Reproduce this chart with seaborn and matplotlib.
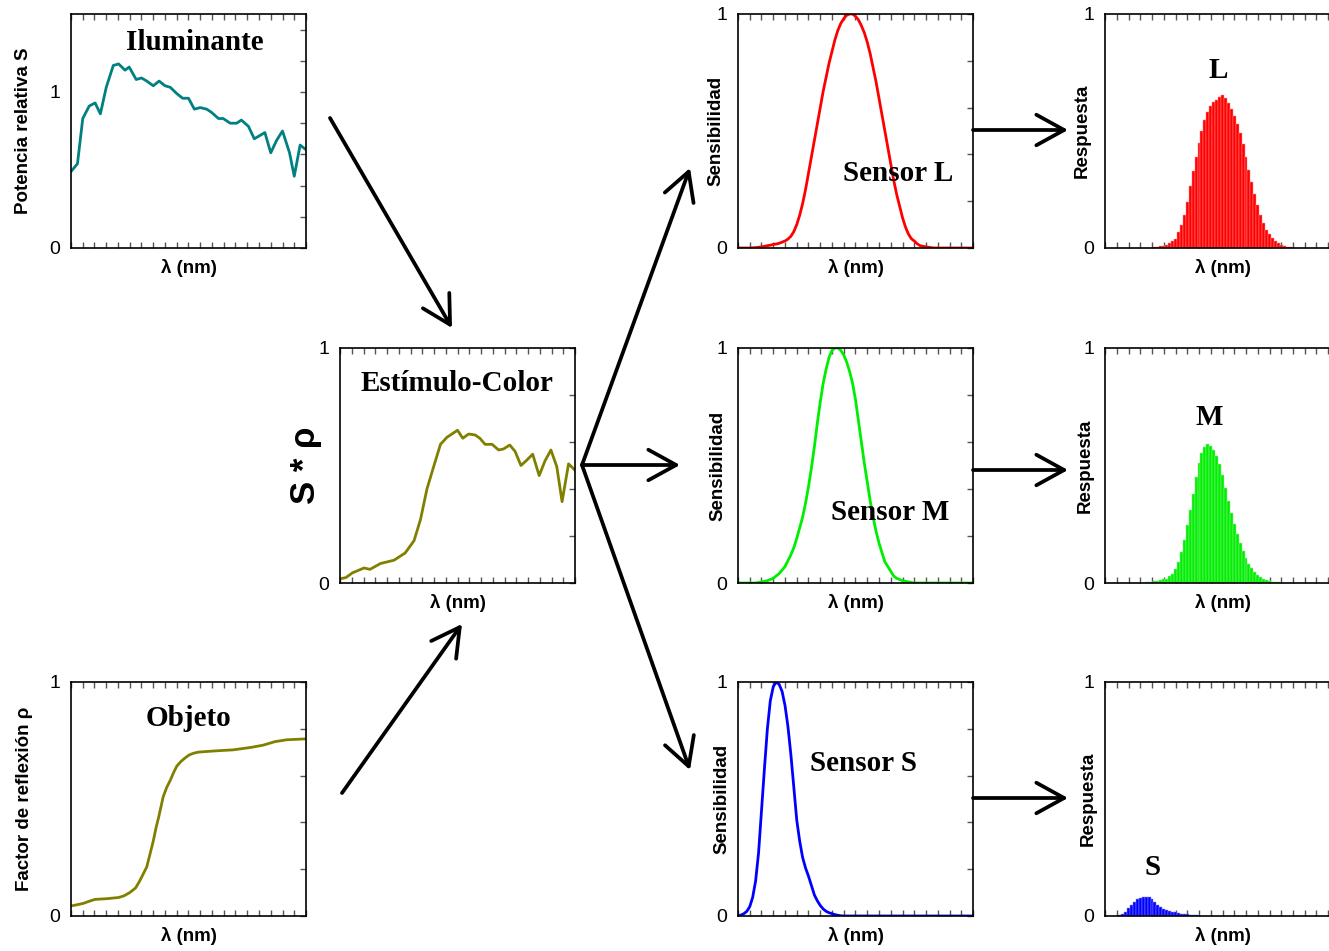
import numpy as np
import matplotlib
matplotlib.use("Agg")
import matplotlib.pyplot as plt
import matplotlib.patches as mpatches
import seaborn as sns

# wavelength grid for the sensor curves (nm)
wl5 = list(range(380, 781, 5))

sens_L = [0, 0, 0, 0, 0, 0.001, 0.002, 0.003, 0.005, 0.007,
          0.01, 0.012, 0.015, 0.017, 0.02, 0.025, 0.03, 0.038, 0.05, 0.07,
          0.10, 0.14, 0.19, 0.25, 0.32, 0.39, 0.46, 0.53, 0.60, 0.67,
          0.73, 0.79, 0.84, 0.89, 0.93, 0.96, 0.98, 0.995, 1.0, 1.0,
          0.99, 0.975, 0.95, 0.92, 0.88, 0.83, 0.77, 0.71, 0.64, 0.57,
          0.50, 0.43, 0.36, 0.29, 0.23, 0.18, 0.13, 0.09, 0.06, 0.04,
          0.03, 0.018, 0.01, 0.007, 0.005, 0.003, 0.001, 0, 0, 0,
          0, 0, 0, 0, 0, 0, 0, 0, 0, 0, 0]
sens_M = [0, 0, 0, 0, 0, 0, 0, 0.002, 0.005, 0.007,
          0.01, 0.015, 0.02, 0.03, 0.04, 0.055, 0.07, 0.095, 0.12, 0.15,
          0.19, 0.235, 0.28, 0.34, 0.41, 0.49, 0.58, 0.68, 0.77, 0.85,
          0.91, 0.96, 0.99, 1.0, 1.0, 0.99, 0.97, 0.94, 0.90, 0.85,
          0.78, 0.69, 0.60, 0.51, 0.43, 0.35, 0.28, 0.22, 0.17, 0.13,
          0.09, 0.07, 0.05, 0.03, 0.02, 0.015, 0.01, 0.007, 0.005, 0.002,
          0, 0, 0, 0, 0, 0, 0, 0, 0, 0,
          0, 0, 0, 0, 0, 0, 0, 0, 0, 0, 0]
sens_S = [0, 0.004, 0.01, 0.02, 0.04, 0.08, 0.15, 0.27, 0.45, 0.63,
          0.80, 0.92, 0.98, 1.0, 0.99, 0.96, 0.90, 0.81, 0.69, 0.55,
          0.41, 0.32, 0.25, 0.205, 0.17, 0.13, 0.09, 0.065, 0.045, 0.03,
          0.02, 0.014, 0.01, 0.006, 0.003, 0.001, 0, 0, 0, 0,
          0, 0, 0, 0, 0, 0, 0, 0, 0, 0,
          0, 0, 0, 0, 0, 0, 0, 0, 0, 0,
          0, 0, 0, 0, 0, 0, 0, 0, 0, 0,
          0, 0, 0, 0, 0, 0, 0, 0, 0, 0, 0]

# illuminant S
illum_wl = [380, 391, 400, 411, 421, 430, 440, 452, 461, 472, 479, 491, 500, 509, 520, 530,
            540, 549, 560, 570, 580, 590, 600, 611, 619, 631, 639, 651, 662, 670, 682, 692,
            701, 710, 720, 730, 740, 752, 760, 770, 780]
illum_val = [0.49, 0.54, 0.83, 0.91, 0.93, 0.86, 1.03, 1.17, 1.18, 1.14, 1.16, 1.08, 1.09,
             1.07, 1.04, 1.07, 1.04, 1.03, 0.99, 0.96, 0.96, 0.89, 0.90, 0.89, 0.87, 0.83,
             0.83, 0.80, 0.80, 0.82, 0.78, 0.70, 0.72, 0.74, 0.61, 0.69, 0.75, 0.61, 0.46,
             0.66, 0.63]

# object reflectance rho
refl_wl = [380, 390, 401, 411, 421, 441, 461, 470, 480, 490, 497, 503, 509, 515, 520, 525,
           529, 537, 543, 549, 555, 560, 567, 574, 581, 588, 596, 605, 628, 656, 685, 707,
           727, 747, 780]
refl_val = [0.043, 0.048, 0.054, 0.063, 0.071, 0.074, 0.079, 0.086, 0.10, 0.12, 0.15, 0.18,
            0.21, 0.27, 0.32, 0.38, 0.42, 0.51, 0.55, 0.58, 0.615, 0.64, 0.66, 0.675, 0.688,
            0.695, 0.70, 0.702, 0.706, 0.71, 0.72, 0.73, 0.745, 0.753, 0.757]

# colour stimulus S*rho
stim_wl = [380, 390, 401, 421, 431, 449, 472, 491, 506, 517, 528, 540, 551, 562, 571, 580,
           589, 599, 610, 618, 627, 639, 650, 658, 669, 678, 688, 698, 708, 719, 729, 739,
           749, 758, 769, 780]
stim_val = [0.018, 0.023, 0.043, 0.064, 0.058, 0.083, 0.097, 0.128, 0.18, 0.27, 0.40, 0.50,
            0.59, 0.62, 0.635, 0.65, 0.616, 0.634, 0.63, 0.616, 0.59, 0.59, 0.566, 0.57,
            0.587, 0.56, 0.50, 0.523, 0.548, 0.457, 0.52, 0.566, 0.495, 0.346, 0.507, 0.48]

# cone responses (5 nm bins)
resp_L_wl = list(range(465, 706, 5))
resp_L = [0.003, 0.004, 0.007, 0.01, 0.014, 0.02, 0.028, 0.04, 0.068, 0.10, 0.142, 0.195,
          0.265, 0.328, 0.387, 0.449, 0.501, 0.546, 0.581, 0.605, 0.622, 0.634, 0.645,
          0.652, 0.64, 0.62, 0.595, 0.565, 0.53, 0.49, 0.445, 0.39, 0.335, 0.28, 0.23,
          0.185, 0.14, 0.105, 0.078, 0.058, 0.042, 0.03, 0.02, 0.013, 0.008, 0.005, 0.003,
          0.002, 0.001]
resp_M_wl = list(range(445, 691, 5))
resp_M = [0.002, 0.004, 0.005, 0.006, 0.008, 0.010, 0.012, 0.015, 0.019, 0.028, 0.040,
          0.058, 0.09, 0.13, 0.185, 0.245, 0.31, 0.38, 0.45, 0.51, 0.555, 0.578, 0.59,
          0.585, 0.565, 0.54, 0.505, 0.46, 0.405, 0.35, 0.30, 0.25, 0.21, 0.17, 0.138,
          0.108, 0.082, 0.062, 0.046, 0.034, 0.024, 0.017, 0.012, 0.009, 0.006, 0.004,
          0.003, 0.002, 0.001, 0.0]
resp_S_wl = list(range(405, 546, 5))
resp_S = [0.003, 0.007, 0.017, 0.033, 0.046, 0.060, 0.071, 0.078, 0.083, 0.083, 0.081,
          0.074, 0.060, 0.047, 0.038, 0.030, 0.024, 0.021, 0.017, 0.016, 0.013, 0.010,
          0.009, 0.007, 0.006, 0.004, 0.003, 0.002, 0.001]

sns.set_style("ticks")
plt.rcParams["font.family"] = ["Liberation Sans", "DejaVu Sans"]
plt.rcParams["text.color"] = "black"
plt.rcParams["axes.labelcolor"] = "black"

W, H = 1329, 951
fig = plt.figure(figsize=(W / 100, H / 100), dpi=100)


def panel(left, top, bottom, width=235):
    return fig.add_axes([left / W, 1 - bottom / H, width / W, (bottom - top) / H])


def style(ax, ylabel, ylab_x, ymax=1.0):
    ax.set_xlim(380, 780)
    ax.set_ylim(0, ymax)
    ax.set_xticks(np.arange(380, 781, 20))
    ax.set_xticklabels([])
    yt = np.arange(0, ymax + 0.01, 0.2)
    ax.set_yticks(yt)
    ax.set_yticklabels(["0" if abs(v) < 1e-6 else "1" if abs(v - 1) < 1e-6 else "" for v in yt])
    ax.tick_params(direction="in", length=4, width=1, color="#555555", top=True, bottom=True,
                   right=True, left=False, labelsize=14, pad=8, labelcolor="black")
    for s in ax.spines.values():
        s.set_visible(True)
        s.set_linewidth(1.2)
        s.set_color("black")
    ax.set_xlabel("λ (nm)", fontsize=13.5, fontweight="bold", va="center")
    ax.xaxis.set_label_coords(0.5, -0.085)
    if ylabel:
        ax.set_ylabel(ylabel, fontsize=13.5, fontweight="bold", va="center")
        ax.yaxis.set_label_coords(ylab_x, 0.5)
    else:
        ax.set_ylabel("")


def title(ax, txt, x, y):
    ax.text(x, y, txt, transform=ax.transAxes, ha="center", va="center",
            fontsize=21, fontweight="bold", family="Liberation Serif")


# left column
ax = panel(71, 14, 248)
sns.lineplot(x=illum_wl, y=illum_val, ax=ax, color="#008080", lw=2)
style(ax, "Potencia relativa S", -0.204, ymax=1.5)
title(ax, "Iluminante", 0.528, 0.88)

ax = panel(340, 348, 583)
sns.lineplot(x=stim_wl, y=stim_val, ax=ax, color="#808000", lw=2)
style(ax, "", 0)
title(ax, "Estímulo-Color", 0.498, 0.851)
fig.text(305 / W, 1 - 465 / H, "S * ρ", rotation=90, ha="center", va="center",
         fontsize=25, fontweight="bold")

ax = panel(71, 682, 916)
sns.lineplot(x=refl_wl, y=refl_val, ax=ax, color="#808000", lw=2)
style(ax, "Factor de reflexión ρ", -0.196)
title(ax, "Objeto", 0.502, 0.842)

# sensors
sensors = [(sens_L, "#ff0000", 14, 248, "Sensor L", 0.681, 0.32, -0.094),
           (sens_M, "#00ee00", 348, 583, "Sensor M", 0.647, 0.302, -0.085),
           (sens_S, "#0000ff", 682, 916, "Sensor S", 0.532, 0.65, -0.068)]
for vals, col, top, bot, name, tx, ty, lx in sensors:
    ax = panel(738, top, bot)
    sns.lineplot(x=wl5, y=vals, ax=ax, color=col, lw=2)
    style(ax, "Sensibilidad", lx)
    title(ax, name, tx, ty)

# responses
responses = [(resp_L_wl, resp_L, "#ff0000", "#ff8a8a", 14, 248, "L", 0.481, 0.76, -0.098),
             (resp_M_wl, resp_M, "#00ee00", "#8af58a", 348, 583, "M", 0.443, 0.706, -0.085),
             (resp_S_wl, resp_S, "#0000ff", "#8a8aff", 682, 916, "S", 0.204, 0.209, -0.072)]
for wl, vals, col, edge, top, bot, name, tx, ty, lx in responses:
    ax = panel(1105, top, bot)
    ax.bar(wl, vals, width=5, color=col, edgecolor=edge, linewidth=0.35)
    style(ax, "Respuesta", lx)
    title(ax, name, tx, ty)


def arrow(x0, y0, x1, y1):
    fig.add_artist(mpatches.FancyArrowPatch(
        (x0 / W, 1 - y0 / H), (x1 / W, 1 - y1 / H), transform=fig.transFigure,
        arrowstyle="->,head_length=1.0,head_width=0.55", mutation_scale=20,
        lw=2.7, color="black", shrinkA=0, shrinkB=0))


arrow(330, 118, 452, 328)
arrow(342, 793, 462, 624)
arrow(582, 465, 690, 168)
arrow(582, 465, 680, 465)
arrow(582, 465, 690, 770)
arrow(973, 130, 1068, 130)
arrow(973, 470, 1068, 470)
arrow(973, 798, 1068, 798)

fig.savefig("out.png", dpi=100)
